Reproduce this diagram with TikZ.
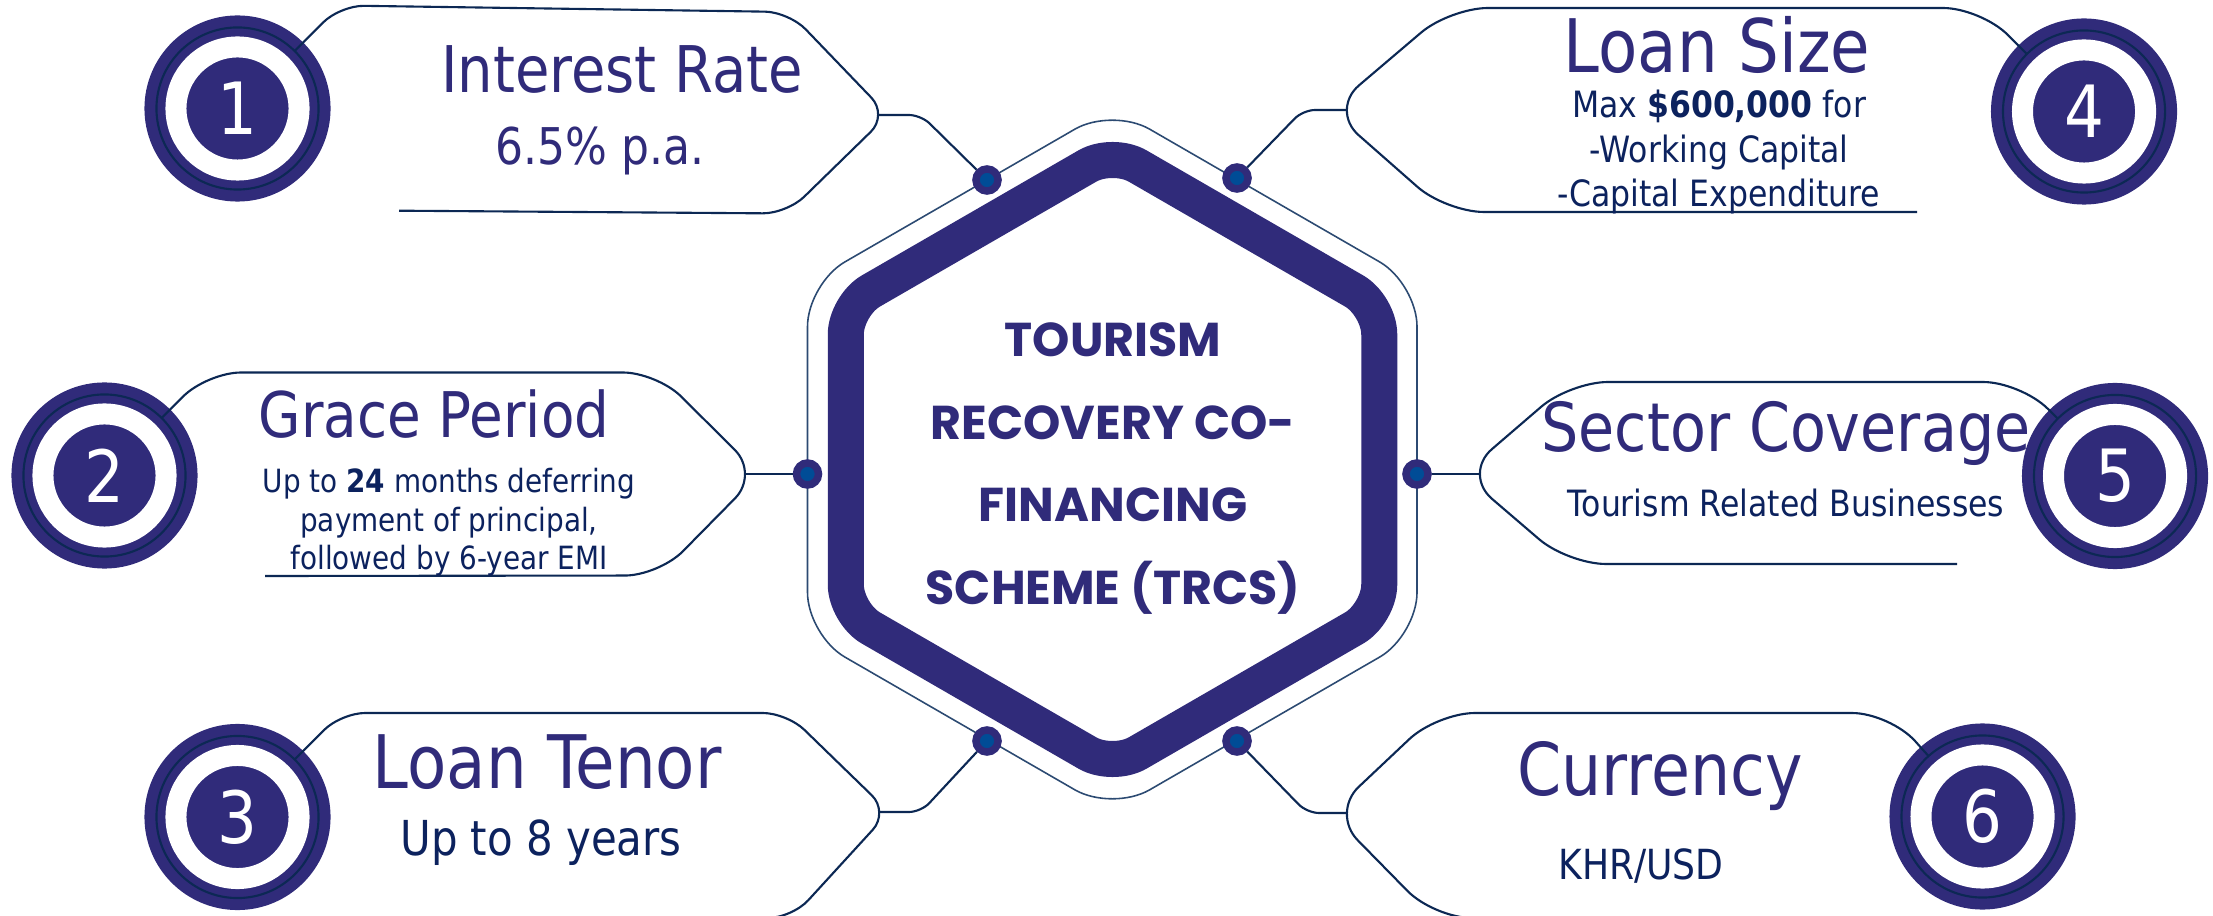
\documentclass[tikz,border=0pt]{standalone}
\usepackage{fontspec}
\newfontfamily\tagfont{DejaVu Sans}[FakeStretch=0.87]
\newfontfamily\hexfont{Poppins}
\definecolor{ink}{RGB}{48,43,122}
\definecolor{navy}{RGB}{12,40,84}
\definecolor{hexline}{RGB}{44,74,114}
\definecolor{dotcore}{RGB}{0,76,150}
\definecolor{deeptext}{RGB}{12,34,94}

\tikzset{
  fsize/.style 2 args={font=\tagfont\fontsize{#1}{#2}\selectfont},
  headline/.style={anchor=base, inner sep=0, text=ink},
  detail/.style={anchor=base, inner sep=0, text=deeptext, align=center},
}

\begin{document}
\begin{tikzpicture}[x=0.01cm, y=-0.01cm,
    rim/.style={circle, inner sep=0, outer sep=0, minimum size=1.62cm, fill=ink,
      draw=navy, line width=0.6pt, preaction={draw=ink, line width=0.24cm}},
    badge/.style={circle, inner sep=0, minimum size=1.23cm, fill=ink, draw=white,
      line width=0.21cm, text=white, font=\tagfont\fontsize{20.5pt}{20.5pt}\selectfont},
    joint/.style={circle, inner sep=0, minimum size=0.22cm, fill=dotcore, draw=ink, line width=0.075cm},
    tagline/.style={navy, line width=0.6pt, rounded corners=#1},
    feeder/.style={navy, line width=0.6pt, rounded corners=0.12cm},
    hub/.style={align=center, inner sep=0, text=ink, font=\hexfont\bfseries\fontsize{13.5pt}{23.5pt}\selectfont}]
  \useasboundingbox (0,0) rectangle (2213,916);
  \fill[white] (0,0) rectangle (2213,916);
  \clip (0,0) rectangle (2213,916);

  % Hexagons
  \draw[hexline, line width=0.45pt, rounded corners=0.43cm]
    (1112.25,107.6) -- (1417,283.5) -- (1417,635.5) -- (1112.25,811.4)
    -- (807.5,635.5) -- (807.5,283.5) -- cycle;
  \draw[ink, line width=0.36cm, line join=round, rounded corners=0.29cm]
    (1112.5,151.5) -- (1379.25,305.5) -- (1379.25,613.5) -- (1112.5,767.5)
    -- (845.75,613.5) -- (845.75,305.5) -- cycle;
  \node[hub] (hub) at (1113,468.5) {TOURISM\\RECOVERY CO-\\FINANCING\\SCHEME (TRCS)};

  % Dots on the thin hexagon
  \node[joint] (d1) at (987,180) {};
  \node[joint] (d2) at (807.5,474) {};
  \node[joint] (d3) at (987,741) {};
  \node[joint] (d4) at (1237,178) {};
  \node[joint] (d5) at (1417,474) {};
  \node[joint] (d6) at (1237,741) {};

  % Badge rims
  \node[rim] (r1) at (237.5,108.5) {};
  \node[rim] (r2) at (104.5,475.5) {};
  \node[rim] (r3) at (237.5,817) {};
  \node[rim] (r4) at (2084,111.5) {};
  \node[rim] (r5) at (2115,476) {};
  \node[rim] (r6) at (1982.5,816.5) {};

  % Tag 1
  \draw[tagline=0.24cm] (r1) -- (340,5.5) -- (789,12) -- (888,115) -- (787,213.5) -- (399,210.7);
  \coordinate (n1) at (878,115);
  \draw[feeder] (n1) -- (921,115) -- (d1);
  % Tag 2
  \draw[tagline=0.34cm] (r2) -- (207,372.5) -- (657,372.5) -- (759,474) -- (659,575.5) -- (265,576);
  \coordinate (n2) at (745,474);
  \draw[feeder] (n2) -- (d2);
  % Tag 3
  \draw[tagline=0.24cm] (r3) -- (341,713) -- (787,713) -- (889,812) -- (792,918) -- (400,918);
  \coordinate (n3) at (879,812);
  \draw[feeder] (n3) -- (921,812) -- (d3);
  % Tag 4
  \draw[tagline=0.38cm] (r4) -- (1981,8) -- (1450,8) -- (1330,110) -- (1446,212) -- (1917,212);
  \coordinate (n4) at (1346,110);
  \draw[feeder] (n4) -- (1303,110) -- (d4);
  % Tag 5
  \draw[tagline=0.38cm] (r5) -- (2021,382) -- (1570,382) -- (1463,474) -- (1568,564) -- (1957,564);
  \coordinate (n5) at (1479,474);
  \draw[feeder] (n5) -- (d5);
  % Tag 6
  \draw[tagline=0.38cm] (r6) -- (1890,713) -- (1437,713) -- (1331,813) -- (1434,918) -- (1900,918);
  \coordinate (n6) at (1347,813);
  \draw[feeder] (n6) -- (1307,813) -- (d6);

  % Numbers
  \node[badge] (b1) at (r1) {1};
  \node[badge] (b2) at (r2) {2};
  \node[badge] (b3) at (r3) {3};
  \node[badge] (b4) at (r4) {4};
  \node[badge] (b5) at (r5) {5};
  \node[badge] (b6) at (r6) {6};

  % Texts (multi-line ones sit on their last baseline)
  \node[headline, fsize={18.3pt}{22pt}] (t1) at (622,93) {Interest Rate};
  \node[headline, fsize={14.4pt}{17pt}] (s1) at (600,165) {6.5\% p.a.};
  \node[headline, fsize={17.9pt}{21pt}] (t2) at (434,438) {Grace Period};
  \node[detail, fsize={9.1pt}{10.95pt}] (s2) at (449,570)
    {Up to \textbf{24} months deferring\\payment of principal,\\followed by 6-year EMI};
  \node[headline, fsize={21pt}{25pt}] (t3) at (547,788) {Loan Tenor};
  \node[detail, fsize={13.7pt}{16pt}] (s3) at (541,855) {Up to 8 years};
  \node[headline, fsize={21pt}{25pt}] (t4) at (1717,73) {Loan Size};
  \node[detail, fsize={10.3pt}{12.7pt}] (s4) at (1719,207)
    {Max \textbf{\$600,000} for\\-Working Capital\\-Capital Expenditure};
  \node[headline, fsize={19.2pt}{23pt}] (t5) at (1786,452) {Sector Coverage};
  \node[detail, fsize={10.3pt}{12.7pt}] (s5) at (1786,517) {Tourism Related Businesses};
  \node[headline, fsize={20.7pt}{25pt}] (t6) at (1660,795) {Currency};
  \node[detail, fsize={11.8pt}{14pt}] (s6) at (1641,879) {KHR/USD};
\end{tikzpicture}
\end{document}
